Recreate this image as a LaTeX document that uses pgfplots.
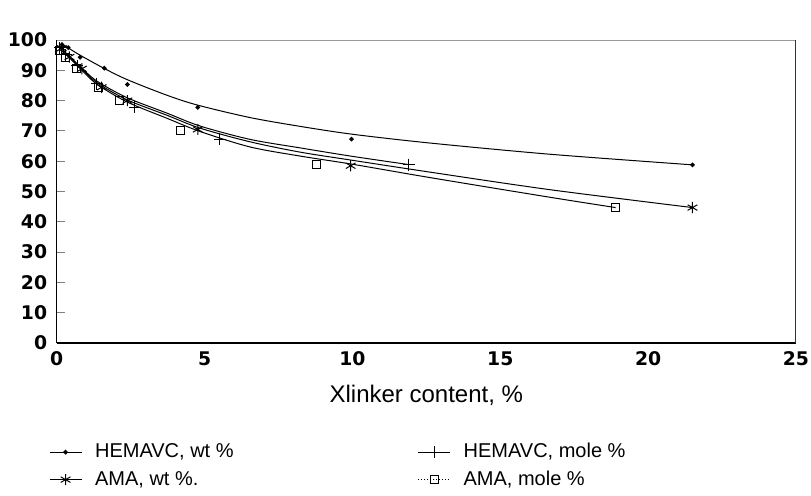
\documentclass[border=0pt]{standalone}
\usepackage{fontspec}
\setmainfont{Liberation Sans}
\newfontfamily\tickfont{DejaVu Sans}
\usepackage{pgfplots}
\pgfplotsset{compat=1.18}

% marker data
\pgfplotstableread{
x y
0.18 98.5
0.39 97.5
0.79 94.3
1.61 90.7
2.39 85.3
4.77 77.8
9.97 67.3
21.5 58.8
}\hemawt
\pgfplotstableread{
x y
0.10 97.5
0.30 95.2
0.70 91.5
1.35 85.6
2.64 77.8
5.52 67.2
11.9 58.9
}\hemamole
\pgfplotstableread{
x y
0.17 97.3
0.43 94.4
0.85 90.5
1.52 84.4
2.39 80.0
4.77 70.5
9.94 58.5
21.5 44.7
}\amawt
\pgfplotstableread{
x y
0.11 96.4
0.30 94.1
0.67 90.5
1.41 84.4
2.14 80.1
4.20 70.2
8.77 58.9
18.9 44.7
}\amamole

\begin{document}
\begin{tikzpicture}
\begin{axis}[
  scale only axis,
  width=369.65pt, height=151.5pt,
  at={(0,0)}, anchor=south west,
  xmin=0, xmax=25, ymin=0, ymax=100,
  xtick={0,5,...,25}, ytick={0,10,...,100},
  axis x line*=bottom, axis y line*=left,
  axis line style={line width=0.8pt},
  tick align=inside,
  major tick length=4pt,
  xtick style={draw=none},
  ytick style={line width=0.5pt},
  tick label style={font=\tickfont\bfseries\fontsize{9.4}{10}\selectfont},
  /pgf/number format/assume math mode=true,
  yticklabel style={inner sep=0pt, xshift=-4.6pt},
  xticklabel style={inner sep=0pt, yshift=-4pt},
  xlabel={Xlinker content, \%},
  xlabel style={at={(axis description cs:0.5,0)}, anchor=center, yshift=-26pt,
    font=\fontsize{12}{14}\selectfont},
  legend columns=2,
  legend cell align=left,
  legend image code/.code={
    \draw[mark repeat=2, mark phase=2, #1] plot coordinates {(0pt,0pt) (8pt,0pt) (16pt,0pt)};
  },
  legend style={draw=none, fill=none, at={(0,0)}, anchor=north west,
    xshift=-7pt, yshift=-46pt, font=\fontsize{10}{12}\selectfont,
    row sep=1pt,
    /tikz/column 1/.style={column sep=4.5pt},
    /tikz/column 2/.style={column sep=90pt},
    /tikz/column 3/.style={column sep=4.5pt}},
  every axis plot/.append style={line width=0.5pt, black},
]
\addlegendimage{black, line width=0.5pt, mark=*, mark size=0.9pt}
\addlegendentry{HEMAVC, wt \%}
\addlegendimage{black, line width=0.5pt, mark=+, mark size=3pt}
\addlegendentry{HEMAVC, mole \%}
\addlegendimage{black, line width=0.5pt, mark=asterisk, mark size=2.8pt}
\addlegendentry{AMA, wt \%.}
\addlegendimage{black, line width=0.5pt, densely dotted, mark=square, mark size=2pt, mark options={solid}}
\addlegendentry{AMA, mole \%}

% fitted curves
\addplot[smooth, forget plot] coordinates {(0.18,98.6) (0.39,97.4) (0.79,95.0) (1.61,90.6) (2.39,86.9) (3.72,81.8) (4.77,78.5) (6.54,74.4) (8.23,71.5) (10,68.9) (12.62,66.0) (16.68,62.3) (21.5,58.8)};
\addplot[smooth, forget plot] coordinates {(0.10,97.5) (0.34,95.5) (0.79,91.3) (1.35,86.5) (2.37,81.0) (3.72,75.9) (4.85,71.6) (6.54,67.2) (8.23,64.4) (10,61.6) (11.9,58.9)};
\addplot[smooth, forget plot] coordinates {(0.17,97.5) (0.34,95.3) (0.79,91.0) (1.35,86.0) (2.37,80.3) (3.72,75.2) (4.85,70.9) (6.54,66.4) (8.23,63.0) (10,60.3) (12.62,56.4) (16.68,50.6) (21.5,44.7)};
\addplot[smooth, forget plot] coordinates {(0.11,96.8) (0.34,95.0) (0.79,90.6) (1.35,85.5) (2.37,79.6) (3.72,74.2) (4.85,69.8) (6.54,64.7) (8.23,61.7) (10,59.0) (12.62,54.6) (16.68,48.1) (18.9,44.7)};

% data markers
\addplot[only marks, mark=*, mark size=0.9pt, forget plot] table {\hemawt};
\addplot[only marks, mark=+, mark size=3pt, forget plot] table {\hemamole};
\addplot[only marks, mark=asterisk, mark size=2.8pt, forget plot] table {\amawt};
\addplot[only marks, mark=square, mark size=2pt, forget plot] table {\amamole};

\draw[black!40, line width=0.6pt] (rel axis cs:0,1) -- (rel axis cs:1,1);
\draw[black!80, line width=0.8pt] (rel axis cs:1,1) -- (rel axis cs:1,0);
\node[anchor=south west, inner sep=0pt, font=\tickfont\bfseries\fontsize{9.4}{10}\selectfont]
  at (rel axis cs:0,1) [yshift=6.5pt] {\% Water};
\end{axis}
\pgfresetboundingbox
\path[use as bounding box] (-28.35pt,-76pt) rectangle (377.15pt,171.5pt);
\end{tikzpicture}
\end{document}
